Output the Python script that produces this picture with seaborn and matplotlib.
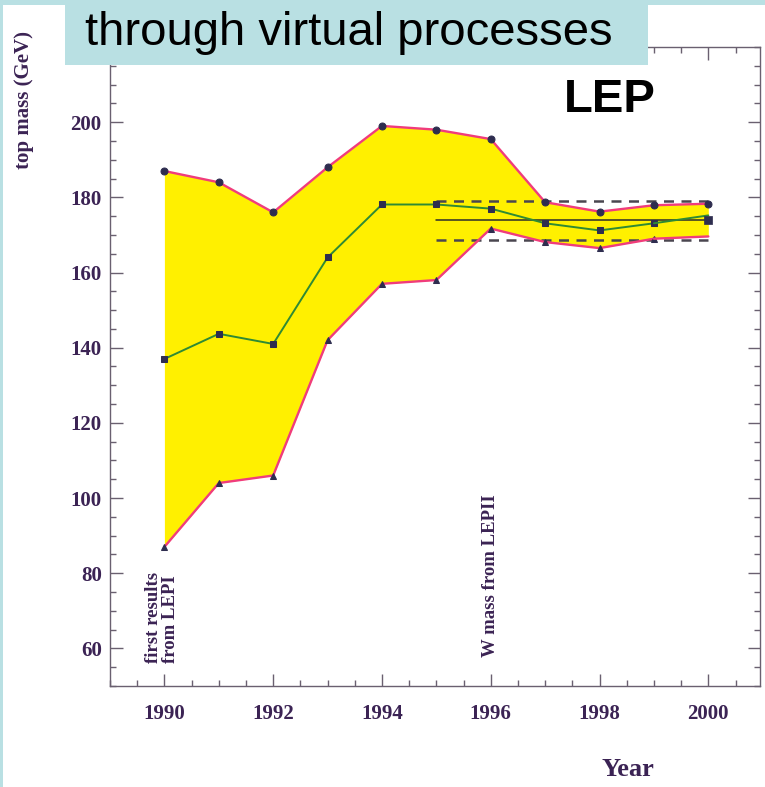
import matplotlib
matplotlib.use("Agg")
import matplotlib.pyplot as plt
from matplotlib.patches import Rectangle
from matplotlib.ticker import MultipleLocator
import seaborn as sns
import numpy as np

# ---- data ----
years = [1990, 1991, 1992, 1993, 1994, 1995, 1996, 1997, 1998, 1999, 2000]
upper = [187, 184, 176, 188, 199, 198, 195.5, 178.7, 176.2, 177.9, 178.3]
lower = [87, 104, 106, 142, 157, 158, 171.7, 168.1, 166.5, 169, 169.6]
central_years = [1990, 1991, 1992, 1993, 1994, 1995, 1996, 1997, 1998, 1999]
central = [137, 143.7, 141, 164, 178.1, 178.1, 177, 173.1, 171.2, 173.1]
central_end_year = [1999, 2000]
central_end = [173.1, 175.2]
direct_year = [2000]
direct_mass = [174]
band_years = [1995, 2000]
band_center = [174, 174]
band_hi = [179, 179]
band_lo = [168.7, 168.7]
xticks = [1990, 1992, 1994, 1996, 1998, 2000]
yticks = [60, 80, 100, 120, 140, 160, 180, 200]

PINK = "#f03c7c"
GREEN = "#2f8a34"
YELLOW = "#fff000"
MARK = "#2e2d4f"
TXT = "#3b2354"
BLUE = "#b9e0e3"

sns.set_style("ticks")
plt.rcParams["font.family"] = ["Liberation Serif", "DejaVu Serif"]

fig = plt.figure(figsize=(7.65, 7.87), dpi=100)
W, H = 765, 787
ax = fig.add_axes([110 / W, 1 - 686 / H, (760 - 110) / W, (686 - 47) / H])

ax.fill_between(years, lower, upper, color=YELLOW, linewidth=0, zorder=1)

sns.lineplot(x=band_years, y=band_hi, ax=ax, color="#4a4650", lw=1.8,
             linestyle=(0, (4, 3)), zorder=2)
sns.lineplot(x=band_years, y=band_lo, ax=ax, color="#4a4650", lw=1.8,
             linestyle=(0, (4, 3)), zorder=2)
sns.lineplot(x=band_years, y=band_center, ax=ax, color="#2b2b2b", lw=1.1, zorder=2)

sns.lineplot(x=years, y=upper, ax=ax, color=PINK, lw=1.7, marker="o",
             markersize=5, markerfacecolor=MARK, markeredgecolor=MARK, zorder=3)
sns.lineplot(x=years[:-1], y=lower[:-1], ax=ax, color=PINK, lw=1.7, marker="^",
             markersize=4.5, markerfacecolor=MARK, markeredgecolor=MARK, zorder=3)
sns.lineplot(x=years[-2:], y=lower[-2:], ax=ax, color=PINK, lw=1.7, zorder=3)

sns.lineplot(x=central_years, y=central, ax=ax, color=GREEN, lw=1.4, marker="s",
             markersize=5, markerfacecolor=MARK, markeredgecolor=MARK, zorder=4)
sns.lineplot(x=central_end_year, y=central_end, ax=ax, color=GREEN, lw=1.4, zorder=4)
sns.scatterplot(x=direct_year, y=direct_mass, ax=ax, color=MARK, marker="s",
                s=40, edgecolor=MARK, zorder=5)

ax.set_xlim(1989, 2000.95)
ax.set_ylim(50, 220)
ax.set_xticks(xticks)
ax.set_yticks(yticks)
ax.xaxis.set_minor_locator(MultipleLocator(0.5))
ax.yaxis.set_minor_locator(MultipleLocator(5))
ax.tick_params(axis="both", which="both", direction="in", top=True, right=True,
               color="#6a6070", width=1)
ax.tick_params(axis="both", which="major", length=9)
ax.tick_params(axis="both", which="minor", length=4)
ax.tick_params(axis="x", which="major", pad=13)
ax.tick_params(axis="y", which="major", pad=6)
for lab in ax.get_xticklabels() + ax.get_yticklabels():
    lab.set_fontweight("bold")
    lab.set_fontsize(15)
    lab.set_color(TXT)
for sp in ax.spines.values():
    sp.set_color("#6a6070")
    sp.set_linewidth(1.0)
ax.set_xlabel("")
ax.set_ylabel("")

ax.text(1989.95, 56, "first results\nfrom LEPI", rotation=90, ha="center", va="bottom",
        multialignment="left", fontsize=13.5, fontweight="bold", color=TXT,
        linespacing=1.0, zorder=6)
ax.text(1996.0, 57.6, "W mass from LEPII", rotation=90, ha="center", va="bottom",
        fontsize=13.5, fontweight="bold", color=TXT, zorder=6)

fig.text(628 / W, 1 - 769 / H, "Year", ha="center", va="center", fontsize=19,
         fontweight="bold", color=TXT)
fig.text(24 / W, 1 - 100 / H, "top mass (GeV)", ha="center", va="center",
         rotation=90, fontsize=15, fontweight="bold", color=TXT)

fig.text(610 / W, 1 - 100 / H, "LEP", ha="center", va="center", fontsize=34,
         fontweight="bold", color="black", family=["Liberation Sans", "DejaVu Sans"])

# background strips and title box
fig.add_artist(Rectangle((0, 1 - 5 / H), 1, 5 / H, transform=fig.transFigure,
                         facecolor=BLUE, edgecolor="none", zorder=10))
fig.add_artist(Rectangle((0, 0), 3 / W, 1, transform=fig.transFigure,
                         facecolor=BLUE, edgecolor="none", zorder=10))
fig.add_artist(Rectangle((65 / W, 1 - 65 / H), (648 - 65) / W, 65 / H,
                         transform=fig.transFigure, facecolor=BLUE,
                         edgecolor="none", zorder=10))
fig.text(85 / W, 1 - 33 / H, "through virtual processes", ha="left", va="center",
         fontsize=34, color="black", family=["Liberation Sans", "DejaVu Sans"],
         zorder=11)

fig.savefig("out.png", dpi=100, facecolor="white")
